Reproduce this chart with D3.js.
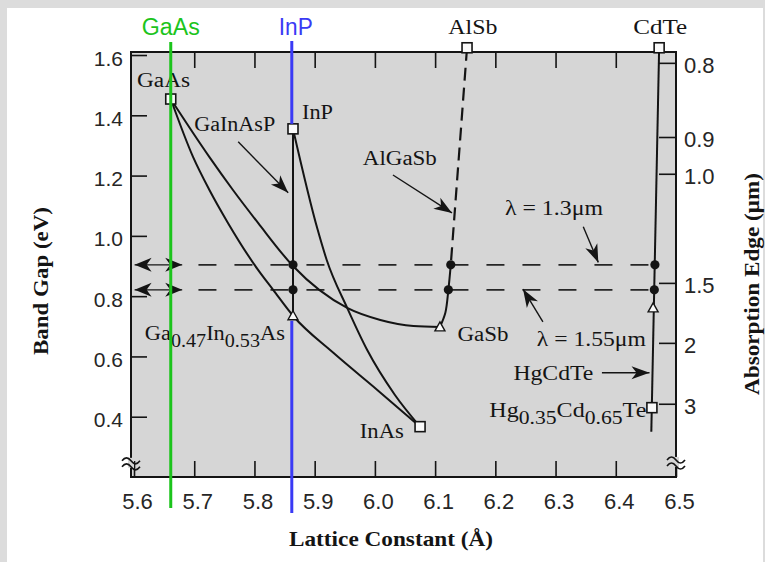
<!DOCTYPE html>
<html><head><meta charset="utf-8">
<script src="https://cdn.jsdelivr.net/npm/d3@7"></script>
<style>body{margin:0;background:#fff}svg{display:block}</style>
</head><body>
<svg id="chart" width="765" height="562"></svg>
<script>
// ---------- data ----------
const xTicks = [5.6, 5.7, 5.8, 5.9, 6.0, 6.1, 6.2, 6.3, 6.4, 6.5];
const yTicks = [0.4, 0.6, 0.8, 1.0, 1.2, 1.4, 1.6];
const wlTickLabels = ["0.8", "0.9", "1.0", "1.5", "2", "3"];
const wlTickEnergy = [1.574, 1.328, 1.206, 0.844, 0.645, 0.443];

const gaInAsCurve = [[5.661,1.454],[5.698,1.262],[5.725,1.153],[5.756,1.043],[5.806,0.887],[5.831,0.821],[5.864,0.735],[5.931,0.612],[6.004,0.489],[6.075,0.367]];
const gaAsSbCurve = [[5.661,1.454],[5.725,1.262],[5.764,1.153],[5.806,1.043],[5.864,0.900],[5.954,0.761],[6.009,0.721],[6.064,0.701],[6.108,0.698]];
const inAsPCurve  = [[5.864,1.355],[5.905,1.020],[5.920,0.920],[5.954,0.761],[5.987,0.622],[6.033,0.473],[6.075,0.367]];
const gaInAsPLine = [[5.864,1.355],[5.864,0.735]];
const alGaSbDashed = [[6.153,1.624],[6.126,0.904]];
const alGaSbSolid  = [[6.126,0.904],[6.122,0.821],[6.117,0.745],[6.108,0.698]];
const hgCdTeLine  = [[6.472,1.624],[6.459,0.350]];

const squareNames  = ["GaAs","InP","InAs","AlSb","CdTe","Hg0.35Cd0.65Te"];
const squareA      = [5.661, 5.864, 6.075, 6.153, 6.472, 6.460];
const squareE      = [1.454, 1.355, 0.367, 1.624, 1.624, 0.430];
const triangleA    = [5.864, 6.108, 6.462];
const triangleE    = [0.735, 0.698, 0.761];
const dotA         = [5.864, 5.864, 6.126, 6.122, 6.465, 6.464];
const dotE         = [0.904, 0.821, 0.904, 0.821, 0.904, 0.821];
const lambdaE      = [0.904, 0.821];   // λ = 1.3 µm, λ = 1.55 µm
const gaAsLattice = 5.661, inPLattice = 5.862;

// ---------- layout ----------
const svg = d3.select("#chart");
const L = 131, R = 676, T = 52, B = 477;
const x = d3.scaleLinear().domain([5.595, 6.5]).range([L, R]);
const y = d3.scaleLinear().domain([0.2, 1.61]).range([B, T]);
const ink = "#141414";
const plotBg = "#d6d6d6";
const serif = "'Liberation Serif','Times New Roman',serif";
const sans = "'Liberation Sans',Arial,sans-serif";

// page background with grey border strip
svg.append("rect").attr("width",765).attr("height",562).attr("fill","#dcdcdc");
svg.append("rect").attr("x",7).attr("y",8).attr("width",756).attr("height",554).attr("fill","#ffffff");

// plot area
svg.append("rect").attr("x",L).attr("y",T).attr("width",R-L).attr("height",B-T).attr("fill",plotBg);

// arrowhead markers
const defs = svg.append("defs");
defs.append("marker").attr("id","ah").attr("viewBox","-20 -8 22 16")
  .attr("markerUnits","userSpaceOnUse").attr("markerWidth",22).attr("markerHeight",16)
  .attr("refX",0).attr("refY",0).attr("orient","auto-start-reverse")
  .append("path").attr("d","M0,0 L-18,-6.5 L-13,0 L-18,6.5 Z").attr("fill",ink);
defs.append("marker").attr("id","ah2").attr("viewBox","-20 -8 22 16")
  .attr("markerUnits","userSpaceOnUse").attr("markerWidth",22).attr("markerHeight",16)
  .attr("refX",0).attr("refY",0).attr("orient","auto-start-reverse")
  .append("path").attr("d","M0,0 L-17,-7 L-12,0 L-17,7 Z").attr("fill",ink);

const line = d3.line().x(d=>x(d[0])).y(d=>y(d[1]));
const smooth = d3.line().x(d=>x(d[0])).y(d=>y(d[1])).curve(d3.curveMonotoneX);
const smoothY = d3.line().x(d=>x(d[0])).y(d=>y(d[1])).curve(d3.curveCatmullRom.alpha(0.5));

// wavelength dashed lines + double arrows at the left edge
const g = svg.append("g");
lambdaE.forEach(E=>{
  g.append("line").attr("x1",x(5.707)).attr("x2",x(6.455)).attr("y1",y(E)).attr("y2",y(E))
    .attr("stroke","#262626").attr("stroke-width",1.8).attr("stroke-dasharray","18,18");
  g.append("line").attr("x1",x(5.601)).attr("x2",x(5.680)).attr("y1",y(E)).attr("y2",y(E))
    .attr("stroke",ink).attr("stroke-width",1.2)
    .attr("marker-start","url(#ah2)").attr("marker-end","url(#ah2)");
});

// curves
[gaInAsCurve, gaAsSbCurve, inAsPCurve].forEach(c=>{
  g.append("path").attr("d",smooth(c)).attr("fill","none").attr("stroke",ink).attr("stroke-width",2);
});
[gaInAsPLine, hgCdTeLine].forEach(c=>{
  g.append("path").attr("d",line(c)).attr("fill","none").attr("stroke",ink).attr("stroke-width",2);
});
g.append("path").attr("d",line(alGaSbDashed)).attr("fill","none").attr("stroke",ink)
  .attr("stroke-width",2.2).attr("stroke-dasharray","13,7");
g.append("path").attr("d",smoothY(alGaSbSolid)).attr("fill","none").attr("stroke",ink).attr("stroke-width",2);

// annotation arrows [fromA, fromE, toA, toE]
const arrows = [
  [5.773,1.312,5.856,1.143],
  [6.030,1.202,6.128,1.076],
  [6.346,1.030,6.371,0.912],
  [6.279,0.715,6.246,0.823],
  [6.377,0.546,6.456,0.546]
];
arrows.forEach(a=>{
  g.append("line").attr("x1",x(a[0])).attr("y1",y(a[1])).attr("x2",x(a[2])).attr("y2",y(a[3]))
    .attr("stroke",ink).attr("stroke-width",1.4).attr("marker-end","url(#ah)");
});

// frame
svg.append("rect").attr("x",L).attr("y",T).attr("width",R-L).attr("height",B-T)
  .attr("fill","none").attr("stroke",ink).attr("stroke-width",2);

// axes
function styleAxis(sel){
  sel.select(".domain").remove();
  sel.selectAll(".tick line").attr("stroke",ink).attr("stroke-width",1.6);
  sel.selectAll(".tick text").attr("fill","#262626").style("font-family",sans).style("font-size","22px");
}
svg.append("g").attr("transform",`translate(0,${B})`)
  .call(d3.axisBottom(x).tickValues(xTicks).tickFormat(d3.format(".1f")).tickSizeInner(-16).tickSizeOuter(0).tickPadding(16))
  .call(styleAxis).selectAll(".tick text").attr("dx","3");
svg.append("g").attr("transform",`translate(0,${T})`)
  .call(d3.axisTop(x).tickValues(xTicks.slice(1,-1)).tickFormat("").tickSizeInner(-16).tickSizeOuter(0))
  .call(styleAxis);
svg.append("g").attr("transform",`translate(${L},0)`)
  .call(d3.axisLeft(y).tickValues(yTicks).tickFormat(d3.format(".1f")).tickSizeInner(-16).tickSizeOuter(0).tickPadding(8))
  .call(styleAxis).selectAll(".tick text").attr("dy","0.48em").style("font-size","21px");
svg.append("g").attr("transform",`translate(${R},0)`)
  .call(d3.axisRight(y).tickValues(wlTickEnergy).tickFormat((d,i)=>wlTickLabels[i]).tickSizeInner(-17).tickSizeOuter(0).tickPadding(8))
  .call(styleAxis).selectAll(".tick text").attr("dy","0.44em");

// axis break marks
[[L,0.247],[R,0.250]].forEach(p=>{
  const bx = p[0], by = y(p[1]);
  const bg = svg.append("g").attr("transform",`translate(${bx},${by})`);
  bg.append("rect").attr("x",-3).attr("y",-5).attr("width",6).attr("height",10).attr("fill",plotBg);
  [-3,3].forEach(o=>bg.append("path").attr("d",`M-9,${o+1} q4.5,-6 9,0 t9,0`)
     .attr("fill","none").attr("stroke",ink).attr("stroke-width",1.6));
});

// point markers
const mk = svg.append("g");
squareA.forEach((a,i)=>{
  mk.append("rect").attr("x",x(a)-5).attr("y",y(squareE[i])-5).attr("width",10).attr("height",10)
    .attr("fill","#fafafa").attr("stroke",ink).attr("stroke-width",1.6);
});
triangleA.forEach((a,i)=>{
  mk.append("path").attr("transform",`translate(${x(a)},${y(triangleE[i])})`)
    .attr("d","M0,-5 L5,4 L-5,4 Z").attr("fill","#fafafa").attr("stroke",ink).attr("stroke-width",1.4);
});
dotA.forEach((a,i)=>{
  mk.append("circle").attr("cx",x(a)).attr("cy",y(dotE[i])).attr("r",4.6).attr("fill",ink);
});

// text labels: [text parts, a, E, width]; parts: [string, isSubscript]
const labels = [
  [[["GaAs",0]],5.605,1.494,53],
  [[["InP",0]],5.879,1.388,31],
  [[["GaInAsP",0]],5.700,1.348,81],
  [[["AlGaSb",0]],5.980,1.235,74],
  [[["AlSb",0]],6.122,1.670,49],
  [[["CdTe",0]],6.429,1.670,54],
  [[["λ = 1.3μm",0]],6.216,1.070,98],
  [[["GaSb",0]],6.137,0.652,51],
  [[["λ = 1.55μm",0]],6.269,0.635,109],
  [[["HgCdTe",0]],6.230,0.522,80],
  [[["Hg",0],["0.35",1],["Cd",0],["0.65",1],["Te",0]],6.190,0.400,157],
  [[["Ga",0],["0.47",1],["In",0],["0.53",1],["As",0]],5.618,0.655,140],
  [[["InAs",0]],5.975,0.330,44]
];
labels.forEach(l=>{
  const t = svg.append("text").attr("x",x(l[1])).attr("y",y(l[2]))
    .attr("font-family",serif).attr("font-size",20).attr("fill",ink)
    .attr("textLength",l[3]).attr("lengthAdjust","spacingAndGlyphs");
  let prev = 0;
  l[0].forEach(p=>{
    const dy = p[1] ? 7 : 0;
    t.append("tspan").attr("dy",dy-prev).attr("font-size",p[1]?18:20).text(p[0]);
    prev = dy;
  });
});

// axis titles
svg.append("text").attr("x",391).attr("y",546).attr("text-anchor","middle")
  .attr("font-family",serif).attr("font-weight","bold").attr("font-size",21).attr("fill",ink)
  .attr("textLength",204).attr("lengthAdjust","spacingAndGlyphs").text("Lattice Constant (Å)");
svg.append("text").attr("transform","translate(48,281) rotate(-90)").attr("text-anchor","middle")
  .attr("font-family",serif).attr("font-weight","bold").attr("font-size",21).attr("fill",ink)
  .attr("textLength",148).attr("lengthAdjust","spacingAndGlyphs").text("Band Gap (eV)");
svg.append("text").attr("transform","translate(759,284) rotate(-90)").attr("text-anchor","middle")
  .attr("font-family",serif).attr("font-weight","bold").attr("font-size",21).attr("fill",ink)
  .attr("textLength",222).attr("lengthAdjust","spacingAndGlyphs").text("Absorption Edge (μm)");

// coloured lattice-match reference lines
const green = "#1cc41c", blue = "#3a3af5";
svg.append("line").attr("x1",x(gaAsLattice)).attr("x2",x(gaAsLattice)).attr("y1",42).attr("y2",508)
  .attr("stroke",green).attr("stroke-width",3);
svg.append("line").attr("x1",x(inPLattice)).attr("x2",x(inPLattice)).attr("y1",41).attr("y2",y(1.355)-5)
  .attr("stroke",blue).attr("stroke-width",3);
svg.append("line").attr("x1",x(inPLattice)).attr("x2",x(inPLattice)).attr("y1",y(0.735)+5).attr("y2",513)
  .attr("stroke",blue).attr("stroke-width",3);
svg.append("text").attr("x",x(gaAsLattice)).attr("y",35).attr("text-anchor","middle")
  .attr("font-family",sans).attr("font-size",23).attr("fill",green)
  .attr("textLength",58).attr("lengthAdjust","spacingAndGlyphs").text("GaAs");
svg.append("text").attr("x",x(inPLattice)+4).attr("y",35).attr("text-anchor","middle")
  .attr("font-family",sans).attr("font-size",23).attr("fill",blue)
  .attr("textLength",34).attr("lengthAdjust","spacingAndGlyphs").text("InP");
</script>
</body></html>
